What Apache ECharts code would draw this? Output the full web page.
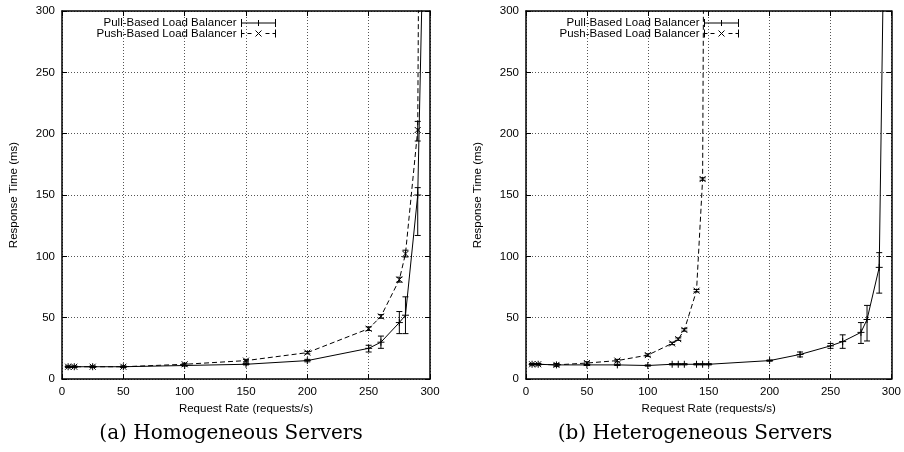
<!DOCTYPE html>
<html><head><meta charset="utf-8">
<script src="https://cdn.jsdelivr.net/npm/echarts@6/dist/echarts.min.js"></script>
<style>html,body{margin:0;padding:0;background:#fff}#c{width:904px;height:452px}</style>
</head><body><div id="c"></div>
<script>
const seriesNames = ['Pull-Based Load Balancer', 'Push-Based Load Balancer'];
const captions = ['(a) Homogeneous Servers', '(b) Heterogeneous Servers'];
const xAxisTitle = 'Request Rate (requests/s)';
const yAxisTitle = 'Response Time (ms)';
const axisMin = 0, axisMax = 300, tickStep = 50;

// (a) Homogeneous servers
const homRate     = [5, 10, 25, 50, 100, 150, 200, 250, 260, 275, 280, 290, 300];
const homPull     = [10, 10, 10, 10, 11, 12, 15, 25, 30, 46, 52, 150, 620];
const homPullLow  = [9.5, 9.5, 9.5, 9.5, 10.5, 11.5, 14, 22, 25, 37, 37, 117, 620];
const homPullHigh = [10.5, 10.5, 10.5, 10.5, 11.5, 12.5, 16, 27.5, 35, 55, 67, 156, 620];
const homPush     = [10, 10, 10, 10, 12, 15, 21.5, 41, 51, 81, 102, 203, 2000];
const homPushLow  = [9.5, 9.5, 9.5, 9.5, 11.2, 14, 20.5, 39.5, 49.5, 79, 99.5, 194, 2000];
const homPushHigh = [10.5, 10.5, 10.5, 10.5, 12.8, 16, 22.5, 42.5, 52.5, 83, 105, 210, 2000];

// (b) Heterogeneous servers
const hetPullRate = [5, 10, 25, 50, 75, 100, 120, 125, 130, 140, 145, 150, 200, 225, 250, 260, 275, 280, 290, 300];
const hetPull     = [12, 12, 11.5, 11.5, 11.5, 11, 12, 12, 12, 12, 12, 12, 15, 20, 27, 30.5, 38, 48.5, 91, 800];
const hetPullLow  = [11.5, 11.5, 10.5, 11, 11, 10.5, 11.5, 11.5, 11.5, 11.5, 11.5, 11.5, 14.5, 18, 25, 25, 29, 31, 70, 800];
const hetPullHigh = [12.5, 12.5, 12.5, 12, 12, 11.5, 12.5, 12.5, 12.5, 12.5, 12.5, 12.5, 15.5, 22, 29, 36, 46, 60, 103, 800];
const hetPushRate = [5, 10, 25, 50, 75, 100, 120, 125, 130, 140, 145, 150];
const hetPush     = [12, 12, 11.5, 13, 15, 19.5, 29, 32.5, 40, 72, 163, 1200];
const hetPushLow  = [11.5, 11.5, 10.5, 12, 14, 18.5, 28, 31.5, 39, 71, 162, 1200];
const hetPushHigh = [12.5, 12.5, 12.5, 14, 16, 20.5, 30, 33.5, 41, 73, 164, 1200];

const FONT = 'Liberation Sans';
const PLUS = 'path://M0,5L10,5M5,0L5,10';
const CROSS = 'path://M0,0L10,10M10,0L0,10';
const PULL_ICON = 'path://M0,0L0,8M0,4L34,4M34,0L34,8M17,1L17,7';
const PUSH_ICON = 'path://M0,0L0,8M0,4L3,4M6,4L10,4M14,1L20,7M20,1L14,7M24,4L28,4M31,4L34,4M34,0L34,8';

function xAx(gi, top) {
  return {
    type: 'value', gridIndex: gi, min: axisMin, max: axisMax, interval: tickStep,
    position: top ? 'top' : 'bottom',
    axisLine: {show: true, onZero: false, lineStyle: {color: '#000', width: 1.5}},
    axisTick: {show: true, inside: true, length: 5, lineStyle: {color: '#000'}},
    axisLabel: {show: !top, color: '#000', fontSize: 11.5, fontFamily: FONT, margin: 7},
    splitLine: {show: !top, lineStyle: {color: '#555', type: [1, 2], width: 1}},
    name: top ? '' : xAxisTitle, nameLocation: 'middle', nameGap: 23,
    nameTextStyle: {color: '#000', fontSize: 11.5, fontFamily: FONT}
  };
}
function yAx(gi, right) {
  return {
    type: 'value', gridIndex: gi, min: axisMin, max: axisMax, interval: tickStep,
    position: right ? 'right' : 'left',
    axisLine: {show: true, onZero: false, lineStyle: {color: '#000', width: 1.5}},
    axisTick: {show: true, inside: true, length: 5, lineStyle: {color: '#000'}},
    axisLabel: {show: !right, color: '#000', fontSize: 11.5, fontFamily: FONT, margin: 7},
    splitLine: {show: !right, lineStyle: {color: '#555', type: [1, 2], width: 1}},
    name: right ? '' : yAxisTitle, nameLocation: 'middle', nameGap: 42,
    nameTextStyle: {color: '#000', fontSize: 11.5, fontFamily: FONT}
  };
}

function lineData(xs, ys) {
  return xs.map((x, i) => (ys[i] > axisMax ? {value: [x, ys[i]], symbol: 'none'} : [x, ys[i]]));
}
function errData(xs, ys, lo, hi) {
  return xs.map((x, i) => [x, lo[i], hi[i], ys[i]]);
}
function errRender(params, api) {
  const x = api.value(0), lo = api.value(1), hi = api.value(2), v = api.value(3);
  if (v > axisMax || hi - lo <= 0) return null;
  const p1 = api.coord([x, hi]), p2 = api.coord([x, lo]);
  const w = 3;
  const st = {stroke: '#000', lineWidth: 1};
  return {type: 'group', children: [
    {type: 'line', shape: {x1: p1[0], y1: p1[1], x2: p2[0], y2: p2[1]}, style: st},
    {type: 'line', shape: {x1: p1[0] - w, y1: p1[1], x2: p1[0] + w, y2: p1[1]}, style: st},
    {type: 'line', shape: {x1: p2[0] - w, y1: p2[1], x2: p2[0] + w, y2: p2[1]}, style: st}
  ]};
}
function pullLine(ax, xs, ys) {
  return {type: 'line', name: seriesNames[0], xAxisIndex: ax, yAxisIndex: ax, data: lineData(xs, ys),
    symbol: PLUS, symbolSize: 7, clip: true,
    lineStyle: {color: '#000', width: 1}, itemStyle: {color: '#000', borderColor: '#000', borderWidth: 1},
    emphasis: {disabled: true}};
}
function pushLine(ax, xs, ys) {
  return {type: 'line', name: seriesNames[1], xAxisIndex: ax, yAxisIndex: ax, data: lineData(xs, ys),
    symbol: CROSS, symbolSize: 6, clip: true,
    lineStyle: {color: '#000', width: 1, type: [5, 3]}, itemStyle: {color: '#000', borderColor: '#000', borderWidth: 1},
    emphasis: {disabled: true}};
}
function errSeries(ax, name, xs, ys, lo, hi) {
  return {type: 'custom', name: name, xAxisIndex: ax, yAxisIndex: ax, renderItem: errRender,
    data: errData(xs, ys, lo, hi), encode: {x: 0, y: [1, 2]}, clip: true, silent: true};
}
function legendFor(rightPx) {
  return {
    orient: 'vertical', align: 'right', right: rightPx, top: 17, padding: 0,
    itemWidth: 34, itemHeight: 8, itemGap: -1.5, symbolKeepAspect: false, selectedMode: false,
    textStyle: {color: '#000', fontSize: 11.5, fontFamily: FONT, lineHeight: 10.5},
    data: [
      {name: seriesNames[0], icon: PULL_ICON, itemStyle: {color: 'transparent', borderColor: '#000', borderWidth: 1}},
      {name: seriesNames[1], icon: PUSH_ICON, itemStyle: {color: 'transparent', borderColor: '#000', borderWidth: 1}}
    ]
  };
}

const chart = echarts.init(document.getElementById('c'), null, {renderer: 'canvas'});
chart.setOption({
  animation: false,
  backgroundColor: '#fff',
  grid: [
    {left: 62, top: 11, width: 368, height: 368},
    {left: 526, top: 11, width: 367, height: 368}
  ],
  xAxis: [xAx(0, false), xAx(0, true), xAx(1, false), xAx(1, true)],
  yAxis: [yAx(0, false), yAx(0, true), yAx(1, false), yAx(1, true)],
  legend: [legendFor(628), legendFor(165)],
  series: [
    errSeries(0, 'errPullH', homRate, homPull, homPullLow, homPullHigh),
    errSeries(0, 'errPushH', homRate, homPush, homPushLow, homPushHigh),
    pullLine(0, homRate, homPull),
    pushLine(0, homRate, homPush),
    errSeries(2, 'errPullR', hetPullRate, hetPull, hetPullLow, hetPullHigh),
    errSeries(2, 'errPushR', hetPushRate, hetPush, hetPushLow, hetPushHigh),
    pullLine(2, hetPullRate, hetPull),
    pushLine(2, hetPushRate, hetPush)
  ],
  graphic: [
    {type: 'text', x: 231, y: 434, style: {text: captions[0], font: '20px "DejaVu Serif"', fill: '#000',
      textAlign: 'center', textVerticalAlign: 'middle', align: 'center', verticalAlign: 'middle'}},
    {type: 'text', x: 695, y: 434, style: {text: captions[1], font: '20px "DejaVu Serif"', fill: '#000',
      textAlign: 'center', textVerticalAlign: 'middle', align: 'center', verticalAlign: 'middle'}}
  ]
});
</script>
</body></html>
